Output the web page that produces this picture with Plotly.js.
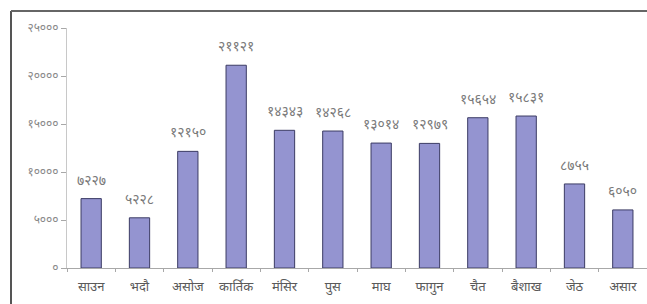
<!DOCTYPE html>
<html>
<head>
<meta charset="utf-8">
<script src="https://cdn.plot.ly/plotly-3.0.1.min.js"></script>
<style>
html,body{margin:0;padding:0;background:#fff;}
#chart{width:647px;height:304px;}
</style>
</head>
<body>
<div id="chart"></div>
<script>
const months = ["साउन","भदौ","असोज","कार्तिक","मंसिर","पुस","माघ","फागुन","चैत","बैशाख","जेठ","असार"];
const values = [7227, 5228, 12150, 21121, 14343, 14268, 13014, 12979, 15654, 15831, 8755, 6050];
const valueLabels = ["७२२७","५२२८","१२१५०","२११२१","१४३४३","१४२६८","१३०१४","१२९७९","१५६५४","१५८३१","८७५५","६०५०"];
const yTickVals = [0, 5000, 10000, 15000, 20000, 25000];
const yTickText = ["०","५०००","१००००","१५०००","२००००","२५०००"];

const font = "'Noto Sans Devanagari', 'Noto Sans', 'Lohit Devanagari', sans-serif";
const plotL = 67, plotR = 647, plotT = 28, plotB = 268;
const pw = plotR - plotL, ph = plotB - plotT;

const trace = {
  type: 'bar',
  x: months,
  y: values,
  marker: {color: '#9494d0', line: {color: '#3c3c64', width: 1}},
  width: 0.42,
  hoverinfo: 'x+y'
};

const annotations = months.map((m, i) => ({
  x: m, y: values[i], xref: 'x', yref: 'y',
  text: valueLabels[i], showarrow: false,
  yanchor: 'bottom', yshift: 6,
  font: {family: font, size: 14, color: '#7a7a7a'}
}));

const layout = {
  width: 647, height: 304,
  margin: {l: plotL, r: 0, t: plotT, b: 304 - plotB},
  paper_bgcolor: '#fff', plot_bgcolor: '#fff',
  showlegend: false,
  bargap: 0.58,
  annotations: annotations,
  xaxis: {
    type: 'category',
    range: [-0.5, 11.5],
    showgrid: false,
    showline: true, linecolor: '#a8a8a8', linewidth: 1,
    ticks: 'outside', ticklen: 3, tickcolor: '#a8a8a8',
    tickson: 'boundaries',
    ticklabelstandoff: 6,
    tickfont: {family: font, size: 13, color: '#5a5a5a'},
    fixedrange: true
  },
  yaxis: {
    range: [0, 25000],
    tickvals: yTickVals, ticktext: yTickText,
    showgrid: false, zeroline: false,
    showline: true, linecolor: '#c8c8c8', linewidth: 1,
    ticks: 'outside', ticklen: 5, tickcolor: '#a8a8a8',
    tickfont: {family: font, size: 12, color: '#8a8a8a'},
    fixedrange: true
  },
  shapes: [
    {type: 'line', xref: 'paper', yref: 'paper',
     x0: (11 - plotL) / pw, x1: (11 - plotL) / pw,
     y0: (plotB - 11) / ph, y1: (plotB - 304) / ph,
     line: {color: '#555', width: 2}},
    {type: 'line', xref: 'paper', yref: 'paper',
     x0: (11 - plotL) / pw, x1: (650 - plotL) / pw,
     y0: (plotB - 11) / ph, y1: (plotB - 11) / ph,
     line: {color: '#666', width: 2}}
  ]
};

Plotly.newPlot('chart', [trace], layout, {displayModeBar: false, staticPlot: true});
</script>
</body>
</html>
